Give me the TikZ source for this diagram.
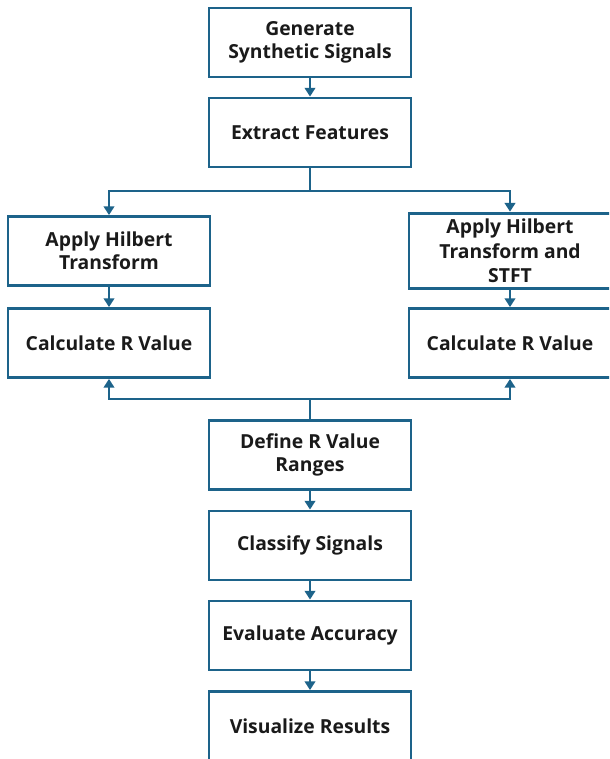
\documentclass[tikz,border=0pt]{standalone}
\usepackage{fontspec}
\setmainfont{Open Sans}
\usetikzlibrary{arrows.meta}
\definecolor{flowblue}{RGB}{29,99,138}
\definecolor{ink}{RGB}{26,26,26}
\tikzset{
  proc/.style={draw=flowblue,line width=1.6pt,fill=white,minimum width=4.04cm,
    minimum height=1.38cm,align=center,font=\fontsize{11}{13}\selectfont\bfseries,text=ink},
  flow/.style={draw=flowblue,line width=1.4pt,-{Triangle[length=5pt,width=6pt]}}
}
\begin{document}
\begin{tikzpicture}[x=0.02cm,y=-0.02cm]
\useasboundingbox (0,0) rectangle (609,759);
\clip (0,0) rectangle (609,759);
\fill[white] (0,0) rectangle (609,759);

\node[proc] (gen) at (310,42.5) {Generate\\Synthetic Signals};
\node[proc] (ext) at (310,132.5) {Extract Features};
\node[proc] (hilb) at (109,251) {Apply Hilbert\\Transform};
\node[proc] (rl) at (109,343) {Calculate R Value};
\node[proc,font=\fontsize{11}{14}\selectfont\bfseries] (stft) at (510,251) {Apply Hilbert\\Transform and\\STFT};
\node[proc] (rr) at (510,343) {Calculate R Value};
\node[proc] (rng) at (310,455) {Define R Value\\Ranges};
\node[proc] (cls) at (310,545.5) {Classify Signals};
\node[proc] (acc) at (310,635.5) {Evaluate Accuracy};
\node[proc] (vis) at (310,726) {Visualize Results};

\coordinate (split) at (310,191);
\coordinate (merge) at (310,399);

\draw[flow] (gen) -- (ext);
\draw[flow,-] (ext.south) -- (split);
\draw[flow] (split) -| (hilb.north);
\draw[flow] (split) -| (stft.north);
\draw[flow] (hilb) -- (rl);
\draw[flow] (stft) -- (rr);
\draw[flow,-] (rng.north) -- (merge);
\draw[flow] (merge) -| (rl.south);
\draw[flow] (merge) -| (rr.south);
\draw[flow] (rng) -- (cls);
\draw[flow] (cls) -- (acc);
\draw[flow] (acc) -- (vis);
\end{tikzpicture}
\end{document}
